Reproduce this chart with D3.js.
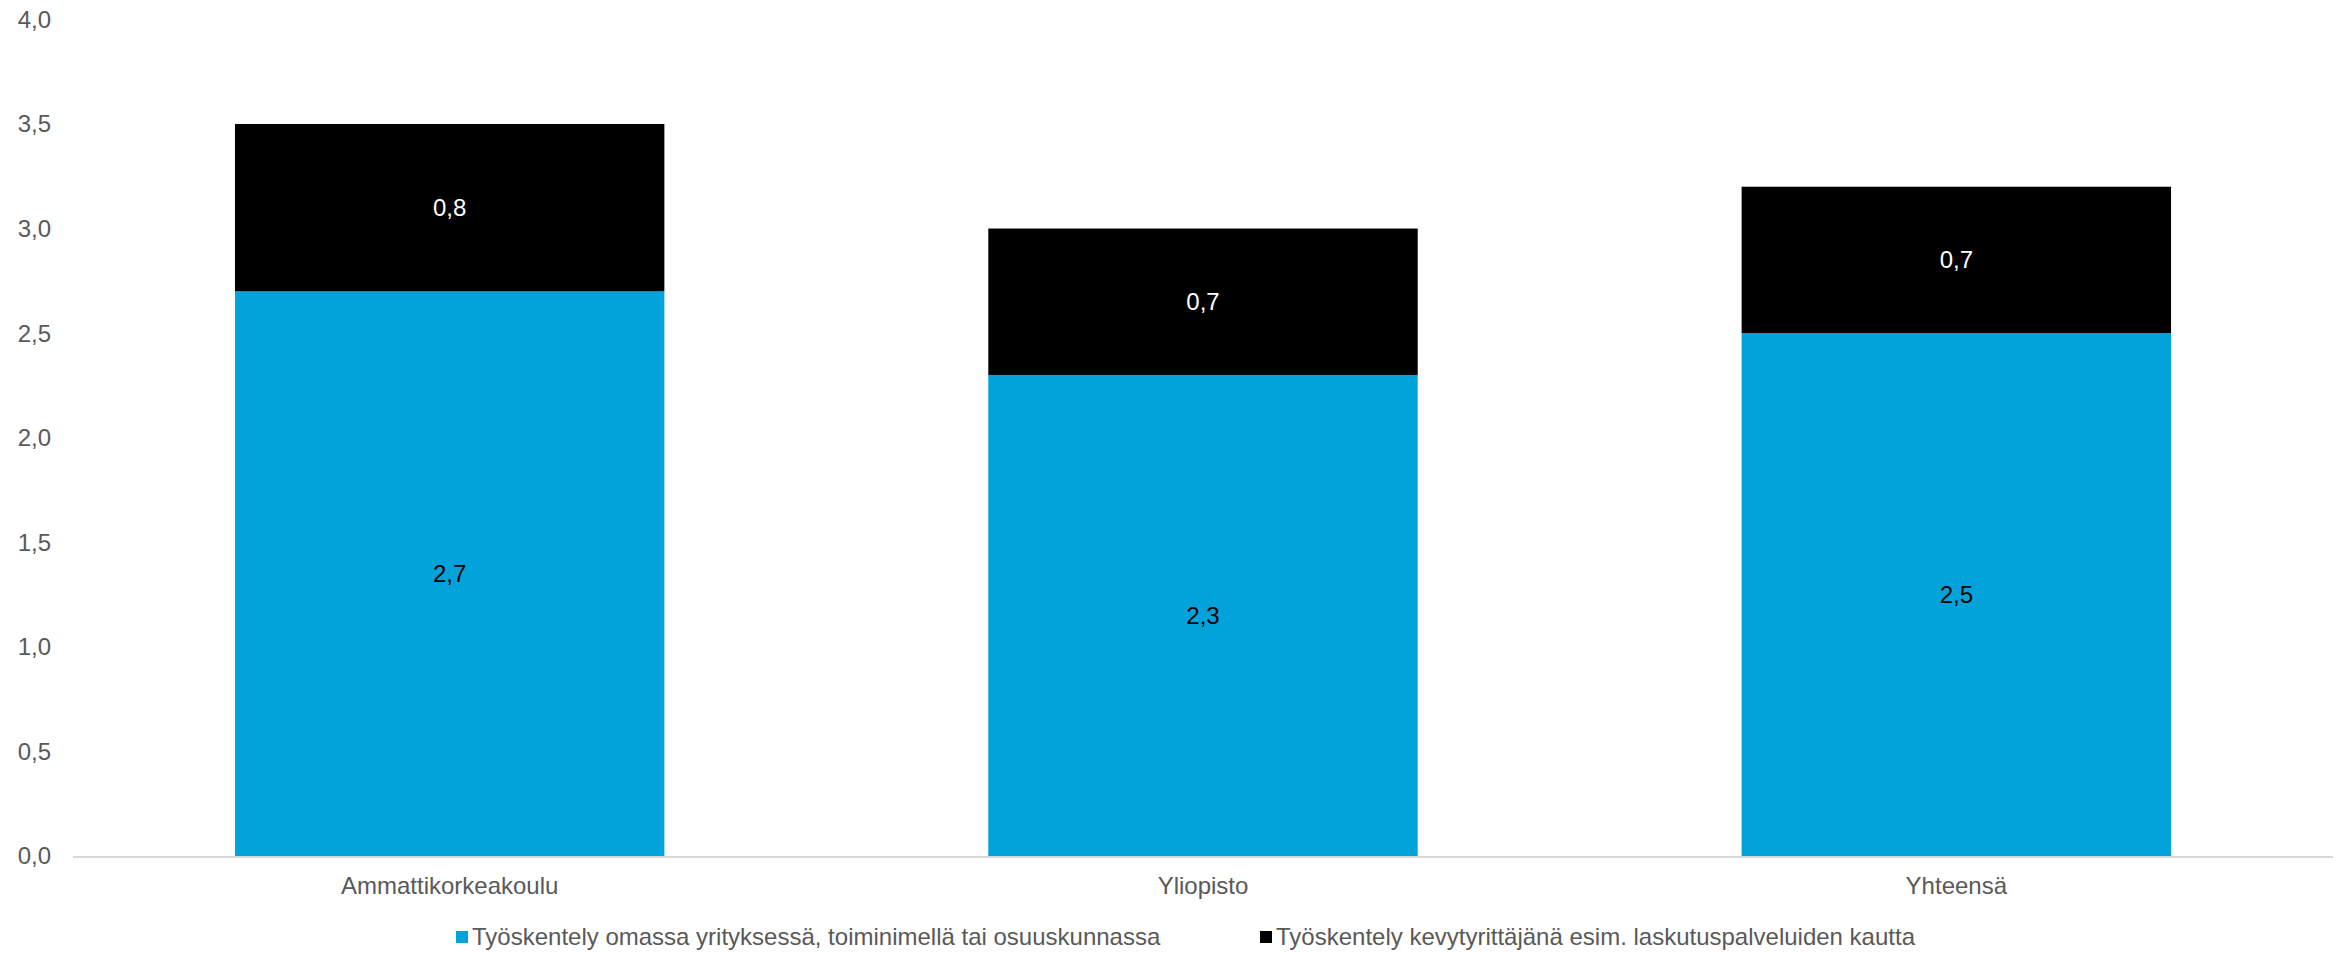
<!DOCTYPE html>
<html><head><meta charset="utf-8">
<script src="https://cdn.jsdelivr.net/npm/d3@7"></script>
<style>body{margin:0;background:#fff}svg{display:block}text{font-family:Arial,"Liberation Sans",sans-serif}</style>
</head><body><svg id="c" width="2344" height="953"></svg>
<script>
const categories = ["Ammattikorkeakoulu", "Yliopisto", "Yhteensä"];
const seriesNames = ["Työskentely omassa yrityksessä, toiminimellä tai osuuskunnassa", "Työskentely kevytyrittäjänä esim. laskutuspalveluiden kautta"];
const ownCompany = [2.7, 2.3, 2.5];
const lightEntrepreneur = [0.8, 0.7, 0.7];
const yTicks = [0, 0.5, 1, 1.5, 2, 2.5, 3, 3.5, 4];
const colors = ["#02A3DA", "#000000"];
const labelColors = ["#000000", "#ffffff"];

const svg = d3.select("#c");
const x0 = 73, x1 = 2333, yTop = 19.4, yBot = 856;
const x = d3.scaleBand().domain(categories).range([x0, x1]).paddingInner(0.43).paddingOuter(0.215);
const y = d3.scaleLinear().domain([0, 4]).range([yBot, yTop]);
const fmt = v => d3.format(".1f")(v).replace(".", ",");
const fs = 24;

const rows = categories.map((c, i) => ({cat: c, s0: ownCompany[i], s1: lightEntrepreneur[i]}));
const stack = d3.stack().keys(["s0", "s1"])(rows);

// y tick labels
svg.append("g").selectAll("text").data(yTicks).join("text")
  .attr("x", 51).attr("y", d => y(d)).attr("dy", "0.35em")
  .attr("text-anchor", "end").attr("font-size", fs).attr("fill", "#595959")
  .text(fmt);

// bars
stack.forEach((layer, li) => {
  const g = svg.append("g");
  g.selectAll("rect").data(layer).join("rect")
    .attr("x", d => x(d.data.cat)).attr("width", x.bandwidth())
    .attr("y", d => y(d[1])).attr("height", d => y(d[0]) - y(d[1]))
    .attr("fill", colors[li]);
  g.selectAll("text").data(layer).join("text")
    .attr("x", d => x(d.data.cat) + x.bandwidth() / 2)
    .attr("y", d => y((d[0] + d[1]) / 2)).attr("dy", "0.35em")
    .attr("text-anchor", "middle").attr("font-size", fs).attr("fill", labelColors[li])
    .text(d => fmt(d[1] - d[0]));
});

// baseline
svg.append("line").attr("x1", x0).attr("x2", x1).attr("y1", y(0) + 1).attr("y2", y(0) + 1)
  .attr("stroke", "#d9d9d9").attr("stroke-width", 2);

// category labels
svg.append("g").selectAll("text").data(categories).join("text")
  .attr("x", d => x(d) + x.bandwidth() / 2).attr("y", 886).attr("dy", "0.35em")
  .attr("text-anchor", "middle").attr("font-size", fs).attr("fill", "#595959").text(d => d);

// legend
const legX = [456, 1260];
const lg = svg.append("g").selectAll("g").data(seriesNames).join("g")
  .attr("transform", (d, i) => `translate(${legX[i]},937)`);
lg.append("rect").attr("x", 0).attr("y", -6).attr("width", 12).attr("height", 12)
  .attr("fill", (d, i) => colors[i]);
lg.append("text").attr("x", 16).attr("y", 0).attr("dy", "0.35em")
  .attr("font-size", fs).attr("fill", "#595959").text(d => d);
</script>
</body></html>
